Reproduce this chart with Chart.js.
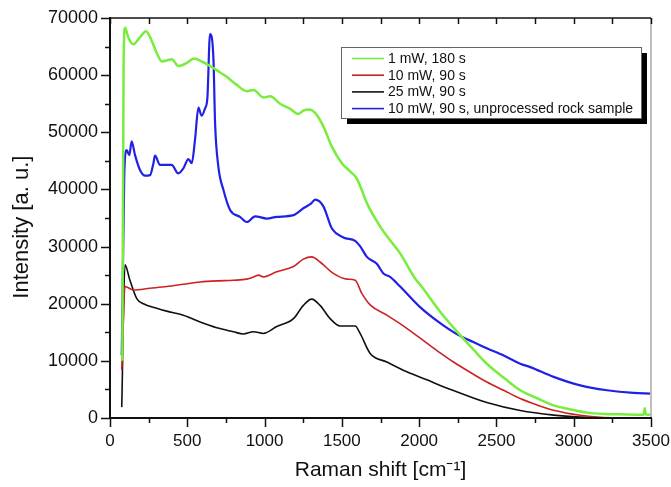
<!DOCTYPE html>
<html><head><meta charset="utf-8">
<script src="https://cdn.jsdelivr.net/npm/chart.js@4/dist/chart.umd.min.js"></script>
<style>html,body{margin:0;padding:0;background:#fff}#wrap{width:671px;height:487px}</style>
</head><body><div id="wrap"><canvas id="c" width="671" height="487"></canvas></div>
<script>
// ---------------- data ----------------
const seriesLabels = ['1 mW, 180 s', '10 mW, 90 s', '25 mW, 90 s', '10 mW, 90 s, unprocessed rock sample'];
const seriesColors = ['#77ee3c', '#cc2222', '#111111', '#2121e6'];

// Raman shift [cm-1], intensity [a.u.]
const green1mW = [[80,10000],[88,62000],[97,68300],[120,66500],[151,65400],[190,66500],[233,67700],[270,66000],[300,64000],[335,62400],[370,62600],[400,62800],[442,61600],[500,62200],[544,62900],[600,62300],[647,61600],[700,60700],[755,59700],[820,58300],[885,57200],[928,57400],[992,56100],[1036,56300],[1100,55000],[1160,54200],[1219,53200],[1250,53800],[1290,54000],[1327,53400],[1381,51000],[1435,47500],[1500,44600],[1560,43000],[1597,41900],[1630,39800],[1662,37600],[1748,33500],[1812,31100],[1877,28800],[1974,24400],[2007,23300],[2136,18600],[2255,14800],[2350,12000],[2438,9500],[2550,7000],[2654,4850],[2760,3500],[2870,2200],[2980,1500],[3085,940],[3200,700],[3301,650],[3452,590],[3460,1700],[3466,600],[3495,590]];

const red10mW = [[76,8400],[97,23000],[151,22400],[259,22700],[367,23000],[475,23400],[583,23800],[691,24000],[798,24100],[885,24300],[940,24800],[960,25000],[992,24700],[1079,25600],[1187,26500],[1251,27800],[1305,28200],[1359,27300],[1445,25300],[1532,24300],[1586,24100],[1629,21800],[1683,19800],[1791,18000],[1920,15700],[2050,13100],[2136,11400],[2222,9800],[2330,8000],[2438,6300],[2550,4800],[2654,3400],[2760,2300],[2870,1350],[3042,470],[3193,70],[3300,0],[3495,0]];

const black25mW = [[76,1900],[97,26800],[129,24100],[173,20900],[216,20000],[302,19200],[367,18700],[475,18000],[583,16800],[691,15800],[798,15100],[863,14700],[928,15100],[992,14800],[1079,16000],[1187,17400],[1251,19700],[1305,20800],[1359,19700],[1424,17400],[1489,16100],[1586,16100],[1618,14800],[1683,11300],[1791,9800],[1920,8100],[2050,6700],[2136,5700],[2222,4800],[2438,2700],[2654,1300],[2870,500],[3042,150],[3200,0],[3495,0]];

const blueRock = [[76,11000],[92,42000],[97,45500],[108,46900],[125,46000],[140,48400],[162,46000],[194,43400],[227,42400],[259,42500],[281,44600],[291,45900],[324,44300],[367,44300],[399,44300],[442,42800],[475,43700],[507,45300],[529,44600],[550,48700],[572,54300],[593,52900],[615,54200],[630,56000],[647,67200],[669,63000],[680,51500],[701,44000],[734,39900],[777,36400],[841,35200],[885,34300],[939,35300],[1014,34900],[1079,35200],[1187,35500],[1251,36700],[1300,37500],[1327,38200],[1381,37000],[1435,33200],[1510,31600],[1586,31000],[1620,30000],[1662,28200],[1726,27000],[1769,25300],[1812,24700],[1877,23000],[2006,19400],[2136,16600],[2255,14500],[2350,13300],[2438,12200],[2550,10900],[2654,9500],[2719,8900],[2870,7200],[3042,5700],[3215,4850],[3387,4380],[3495,4270]];

const xTicks = [0, 500, 1000, 1500, 2000, 2500, 3000, 3500];
const yTicks = [0, 10000, 20000, 30000, 40000, 50000, 60000, 70000];
const xMinorStep = 250;
const yMinorStep = 5000;

// ---------------- chart ----------------
const allSeries = [green1mW, red10mW, black25mW, blueRock];
const datasets = allSeries.map((s, i) => ({
  label: seriesLabels[i],
  data: s.map(p => ({x: p[0], y: p[1]})),
  borderColor: seriesColors[i],
  backgroundColor: seriesColors[i],
  borderWidth: [2.5, 1.6, 1.6, 2.2][i],
  pointRadius: 0,
  cubicInterpolationMode: 'monotone',
  fill: false
}));

const FONT = "'Liberation Sans', Arial, sans-serif";

const framePlugin = {
  id: 'frame',
  afterDraw(chart) {
    const {ctx, chartArea: {left, right, top, bottom}, scales: {x, y}} = chart;
    ctx.save();
    const line = (x1, y1, x2, y2) => { ctx.beginPath(); ctx.moveTo(x1, y1); ctx.lineTo(x2, y2); ctx.stroke(); };
    // right border (gray)
    ctx.strokeStyle = '#a8a8a8'; ctx.lineWidth = 1.5;
    line(right, top, right, bottom);
    // top border
    ctx.strokeStyle = '#111'; ctx.lineWidth = 1.5;
    line(left, top, right, top);
    // left & bottom axes
    ctx.lineWidth = 2;
    line(left, top - 1, left, bottom + 1);
    line(left - 1, bottom, right + 1, bottom);
    // x ticks
    ctx.lineWidth = 1.5;
    for (let v = xTicks[0]; v <= xTicks[xTicks.length - 1]; v += xMinorStep) {
      const px = Math.round(x.getPixelForValue(v)) + 0.5;
      const major = xTicks.includes(v);
      line(px, bottom, px, bottom + (major ? 9 : 5));
      line(px, top, px, top + 6);
    }
    for (let v = yTicks[0]; v <= yTicks[yTicks.length - 1]; v += yMinorStep) {
      const py = Math.round(y.getPixelForValue(v)) + 0.5;
      const major = yTicks.includes(v);
      line(left, py, left - (major ? 9 : 5), py);
    }
    // legend
    const bx = 341, by = 47, bw = 300, bh = 71;
    ctx.fillStyle = '#000';
    ctx.fillRect(bx + 6, by + 6, bw, bh);
    ctx.fillStyle = '#fff';
    ctx.fillRect(bx, by, bw, bh);
    ctx.strokeStyle = '#666'; ctx.lineWidth = 1;
    ctx.strokeRect(bx + 0.5, by + 0.5, bw, bh);
    ctx.font = '14px ' + FONT;
    ctx.textBaseline = 'middle';
    ctx.textAlign = 'left';
    chart.data.datasets.forEach((ds, i) => {
      const ry = 58.5 + i * 16.7;
      ctx.strokeStyle = ds.borderColor; ctx.lineWidth = 1.6;
      line(352, ry, 384, ry);
      ctx.fillStyle = '#111';
      ctx.fillText(ds.label, 388, ry + 0.5);
    });
    ctx.restore();
  }
};

new Chart(document.getElementById('c'), {
  type: 'line',
  data: {datasets},
  options: {
    responsive: false,
    devicePixelRatio: 1,
    animation: false,
    layout: {padding: {left: 0, right: 20, top: 18, bottom: 0}},
    plugins: {legend: {display: false}, tooltip: {enabled: false}},
    scales: {
      x: {
        type: 'linear', min: xTicks[0], max: xTicks[xTicks.length - 1],
        afterFit: s => { s.height = 69; s.paddingLeft = 0; s.paddingRight = 0; },
        afterBuildTicks: s => { s.ticks = xTicks.map(v => ({value: v})); },
        grid: {display: false, drawTicks: false},
        border: {display: false},
        ticks: {padding: 13, color: '#111', font: {family: FONT, size: 17}, maxRotation: 0, callback: v => String(v)},
        title: {display: true, text: 'Raman shift [cm⁻¹]', color: '#111', font: {family: FONT, size: 21}, padding: {top: 0, bottom: 4}}
      },
      y: {
        type: 'linear', min: yTicks[0], max: yTicks[yTicks.length - 1],
        afterFit: s => { s.width = 110; s.paddingTop = 0; s.paddingBottom = 0; },
        afterBuildTicks: s => { s.ticks = yTicks.map(v => ({value: v})); },
        grid: {display: false, drawTicks: false},
        border: {display: false},
        ticks: {padding: 12, color: '#111', font: {family: FONT, size: 18}, callback: v => String(v)},
        title: {display: true, text: 'Intensity [a. u.]   ', color: '#111', font: {family: FONT, size: 22}, padding: {top: 9, bottom: 0}}
      }
    }
  },
  plugins: [framePlugin]
});
</script>
</body></html>
